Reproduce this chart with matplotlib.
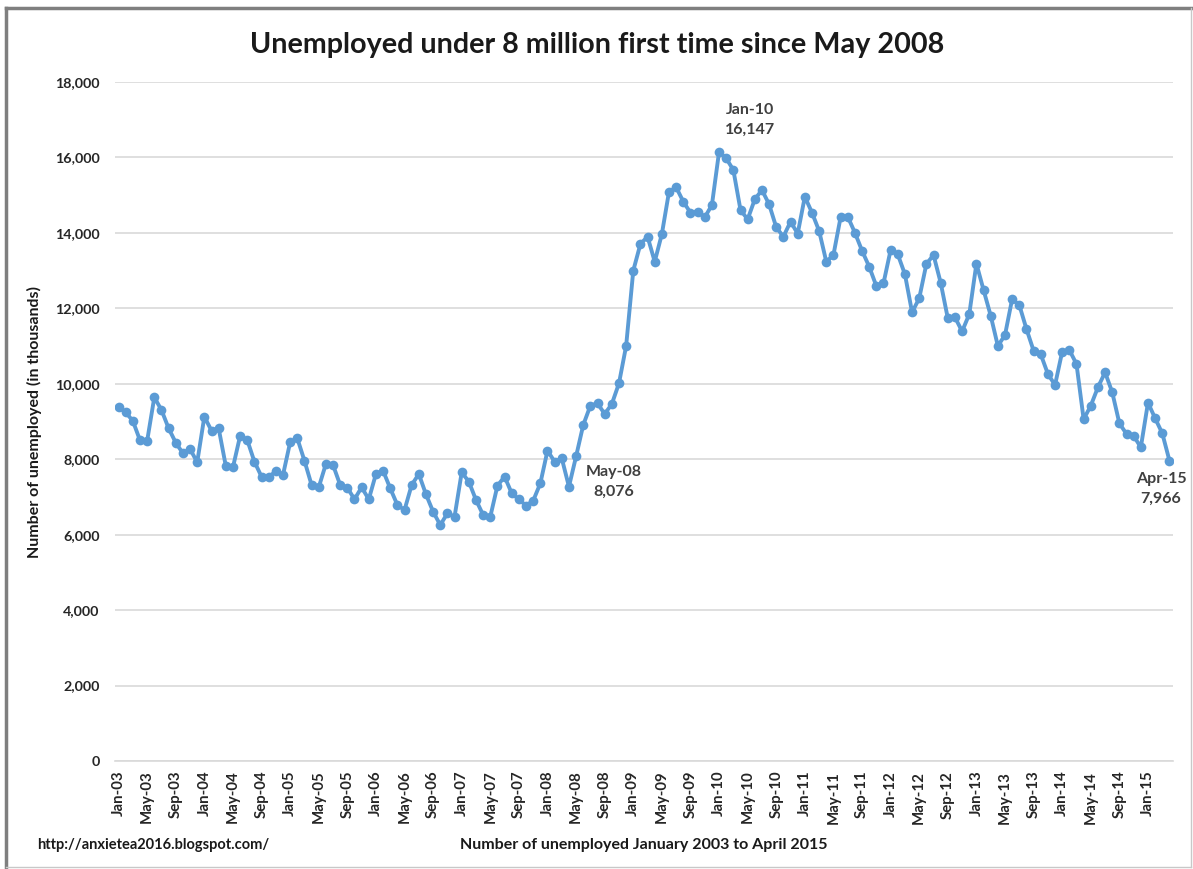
import numpy as np
import matplotlib
matplotlib.use("Agg")
import matplotlib.pyplot as plt
from matplotlib.lines import Line2D

plt.rcParams['font.family'] = ['Lato', 'DejaVu Sans']

# monthly number of unemployed (thousands), Jan 2003 .. Apr 2015
months = ['Jan', 'Feb', 'Mar', 'Apr', 'May', 'Jun',
          'Jul', 'Aug', 'Sep', 'Oct', 'Nov', 'Dec']
years = list(range(2003, 2016))

unemployed = [
    9377, 9244, 9013, 8500, 8490, 9642, 9305, 8820, 8438, 8157, 8271, 7919,      # 2003
    9128, 8757, 8820, 7820, 7786, 8616, 8510, 7935, 7537, 7520, 7688, 7582,      # 2004
    8450, 8555, 7962, 7317, 7256, 7874, 7847, 7317, 7247, 6937, 7256, 6937,      # 2005
    7608, 7697, 7229, 6787, 6654, 7317, 7608, 7070, 6609, 6256, 6566, 6477,      # 2006
    7653, 7405, 6919, 6521, 6477, 7299, 7537, 7096, 6937, 6769, 6901, 7361,      # 2007
    8227, 7935, 8024, 7273, 8076, 8907, 9420, 9482, 9199, 9464, 10012, 11002,    # 2008
    13000, 13706, 13900, 13237, 13971, 15093, 15209, 14827, 14535, 14562, 14413, 14739,  # 2009
    16147, 15977, 15667, 14607, 14360, 14890, 15137, 14758, 14148, 13900, 14298, 13980,  # 2010
    14960, 14536, 14050, 13237, 13414, 14413, 14430, 14006, 13529, 13105, 12592, 12663,  # 2011
    13547, 13431, 12902, 11895, 12266, 13175, 13414, 12680, 11735, 11762, 11390, 11845,  # 2012
    13184, 12486, 11805, 11002, 11293, 12247, 12088, 11452, 10877, 10781, 10259, 9968,   # 2013
    10851, 10896, 10524, 9058, 9420, 9907, 10304, 9774, 8952, 8669, 8616, 8316,          # 2014
    9499, 9085, 8687, 7966,                                                              # 2015
]

labels = [f"{m}-{str(y)[2:]}" for y in years for m in months][:len(unemployed)]

# points called out on the chart: (x offset pt, y offset pt, va)
callouts = {
    'May-08': (27, -6, 'top'),
    'Jan-10': (22, 11, 'bottom'),
    'Apr-15': (-6, -8, 'top'),
}

fig = plt.figure(figsize=(11.93, 8.69), dpi=100)
ax = fig.add_axes([115/1193, 1 - 761/869, 1058/1193, 679/869])

x = np.arange(len(unemployed))
ax.plot(x, unemployed, color='#5B9BD5', lw=2.8, marker='o', ms=7,
        markeredgewidth=0, zorder=3)

ax.set_xlim(-0.5, len(unemployed) - 0.5)
ax.set_ylim(0, 18000)
ax.set_yticks(np.arange(0, 18001, 2000))
ax.set_yticklabels([f"{v:,}" for v in range(0, 18001, 2000)],
                   fontweight='bold', fontsize=10.3, color='#262626')
ax.set_xticks(x[::4])
ax.set_xticklabels(labels[::4], rotation=90, fontweight='bold',
                   fontsize=10.8, color='#262626')
ax.tick_params(axis='y', length=0, pad=11)
ax.tick_params(axis='x', length=0, pad=7)
ax.grid(axis='y', color='#d9d9d9', lw=1.2, zorder=0)
for s in ['top', 'right', 'left']:
    ax.spines[s].set_visible(False)
ax.spines['bottom'].set_color('#d9d9d9')
ax.spines['bottom'].set_linewidth(1.2)

for lab, (dx, dy, va) in callouts.items():
    i = labels.index(lab)
    ax.annotate(f"{lab}\n{unemployed[i]:,}", xy=(i, unemployed[i]),
                xytext=(dx, dy), textcoords='offset points', ha='center', va=va,
                fontsize=11.5, fontweight='bold', color='#404040',
                linespacing=1.55)

ax.set_xlabel('Number of unemployed January 2003 to April 2015',
              fontsize=11.5, fontweight='bold', color='#1a1a1a')
ax.xaxis.set_label_coords(0.5, -0.113)
ax.set_ylabel('Number of unemployed (in thousands)',
              fontsize=11.5, fontweight='bold', color='#1a1a1a')
ax.yaxis.set_label_coords(-0.069, 0.50)

fig.text(597/1193, 1 - 45/869, 'Unemployed under 8 million first time since May 2008',
         ha='center', va='center', fontsize=20.7, fontweight='bold', color='#1a1a1a')
fig.text(37/1193, 1 - 845/869, 'http://anxietea2016.blogspot.com/',
         ha='left', va='center', fontsize=10.5, fontweight='bold', color='#1a1a1a')

# chart frame
fig.add_artist(Line2D([6/1193, 6/1193], [1 - 8/869, 1 - 867/869], color='#7f7f7f', lw=2.5))
fig.add_artist(Line2D([6/1193, 1191/1193], [1 - 8/869, 1 - 8/869], color='#7f7f7f', lw=2.5))
fig.add_artist(Line2D([1191/1193, 1191/1193], [1 - 8/869, 1 - 867/869], color='#c8c8c8', lw=1))
fig.add_artist(Line2D([6/1193, 1191/1193], [1 - 867/869, 1 - 867/869], color='#c8c8c8', lw=1))

fig.savefig('out.png', dpi=100)
